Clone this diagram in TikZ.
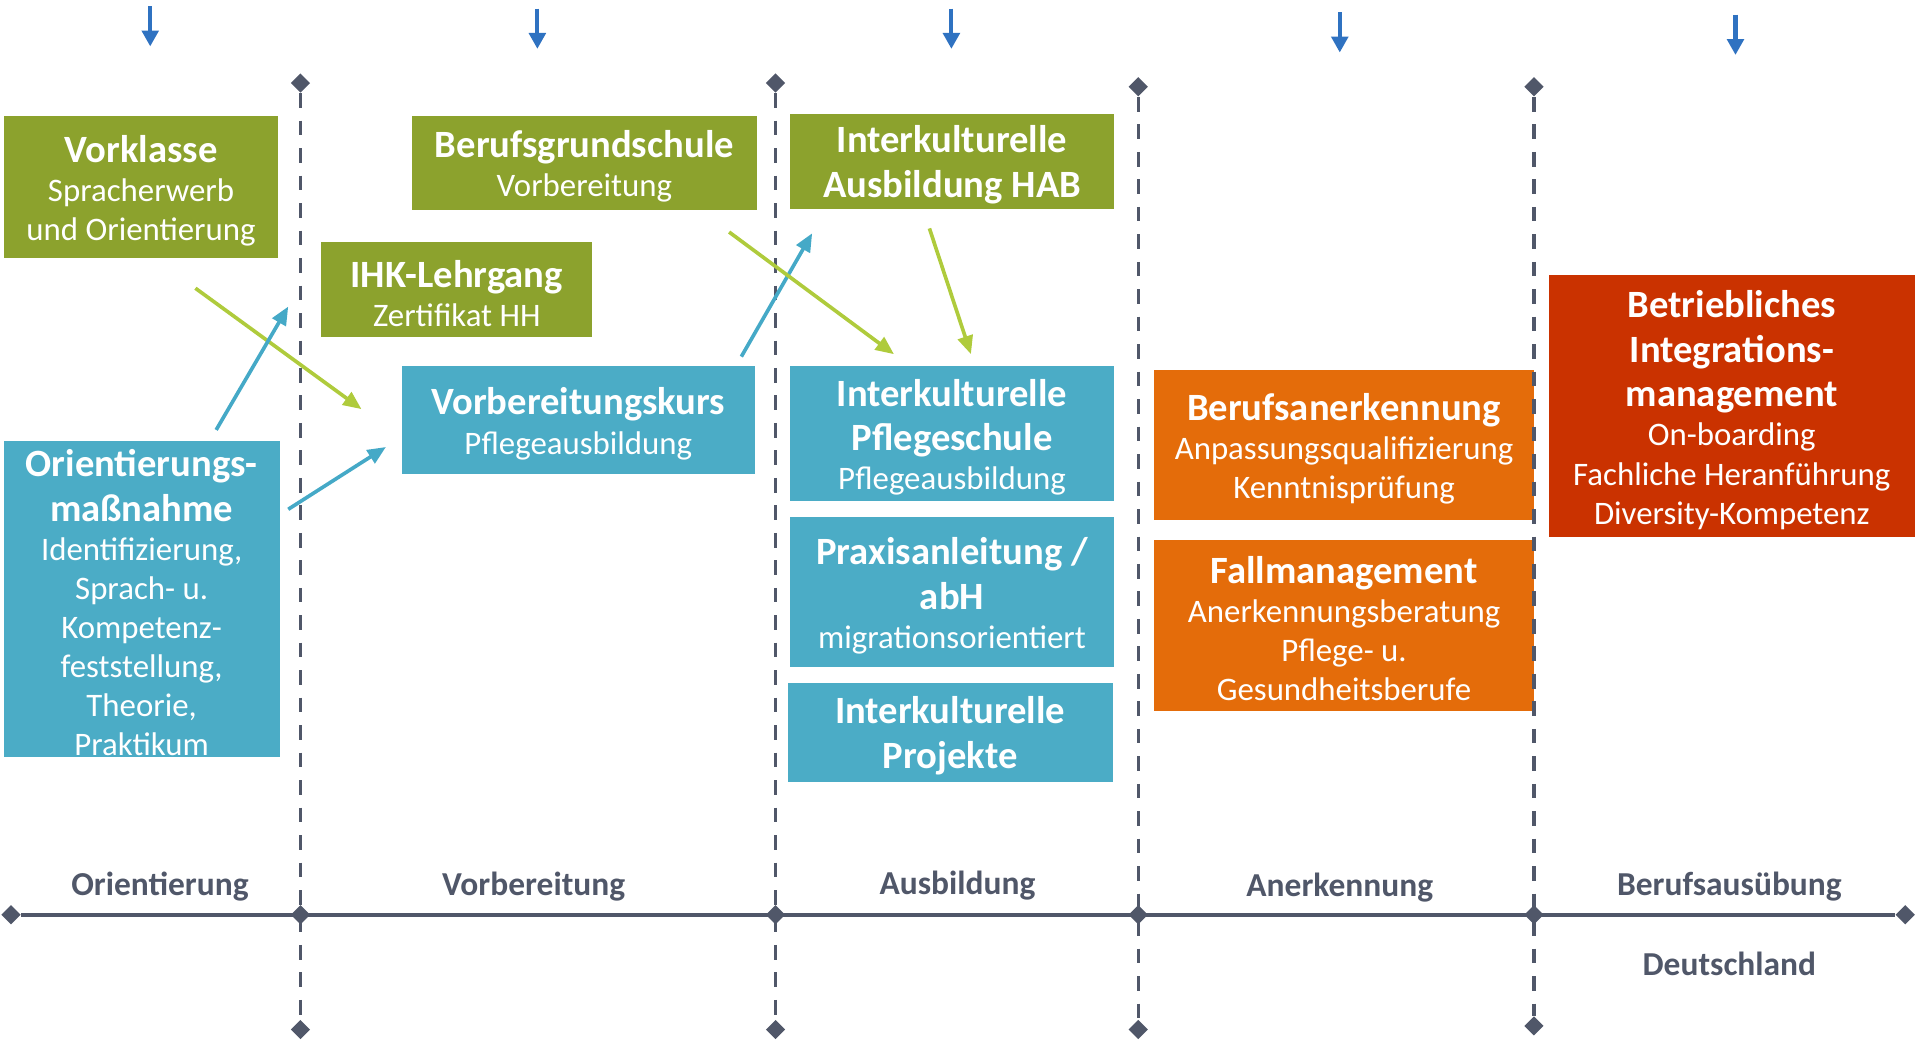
\documentclass[tikz,border=0pt]{standalone}
\usepackage{fontspec}
\setmainfont{Carlito}
\usepackage{tikz}
\usetikzlibrary{calc,shapes.geometric,arrows.meta}

\definecolor{boxgreen}{HTML}{8CA22D}
\definecolor{boxblue}{HTML}{4BACC6}
\definecolor{boxorange}{HTML}{E46C0A}
\definecolor{boxred}{HTML}{CA3200}
\definecolor{limearrow}{HTML}{AFCB3C}
\definecolor{cyanarrow}{HTML}{45A9C7}
\definecolor{toparrow}{HTML}{2F72C1}
\definecolor{axisgray}{HTML}{505769}

\tikzstyle{stagebox}=[rectangle,inner sep=0pt,text=white]
\tikzstyle{greenbox}=[stagebox,fill=boxgreen]
\tikzstyle{bluebox}=[stagebox,fill=boxblue]
\tikzstyle{orangebox}=[stagebox,fill=boxorange]
\tikzstyle{redbox}=[stagebox,fill=boxred]
\tikzstyle{limeline}=[draw=limearrow,line width=1.7pt,-{Triangle[length=0.3cm,width=0.25cm]}]
\tikzstyle{cyanline}=[draw=cyanarrow,line width=1.7pt,-{Triangle[length=0.3cm,width=0.25cm]}]
\tikzstyle{downarrow}=[draw=toparrow,line width=1.9pt,-{Triangle[length=0.26cm,width=0.27cm]}]
\tikzstyle{phaseline}=[draw=axisgray,line width=1.6pt,dash pattern=on 0.24cm off 0.21cm]
\tikzstyle{axisline}=[draw=axisgray,line width=1.7pt]
\tikzstyle{milestone}=[diamond,fill=axisgray,inner sep=0pt,minimum width=0.32cm,minimum height=0.32cm]
\tikzstyle{phaselabel}=[text=axisgray,font=\fontsize{15.6}{18}\selectfont\bfseries]
\newcommand\boxtitlefont{\fontsize{18}{20.9}\selectfont\bfseries}
\newcommand\boxsubfont{\fontsize{15.3}{18.2}\selectfont}
\newcommand\boxlabel[3][5cm]{\parbox{#1}{\vspace*{0.12cm}\centering{\boxtitlefont #2\par}{\boxsubfont #3\par}}}

\begin{document}
\begin{tikzpicture}[x=0.02cm,y=-0.02cm]
    \useasboundingbox (0,0) rectangle (1568,852);

    % Orientierung
    \node [greenbox,minimum width=4.5cm,minimum height=2.32cm] (vorklasse) at (115.5,153) {
        \boxlabel[4.5cm]{Vorklasse}{Spracherwerb\\und Orientierung}
    };
    \node [bluebox,minimum width=4.52cm,minimum height=5.18cm] (orientmass) at (116,490.5) {
        \boxlabel[4.52cm]{Orientierungs-\\maßnahme}{Identifizierung,\\Sprach- u.\\Kompetenz-\\feststellung,\\Theorie,\\Praktikum}
    };

    % Vorbereitung
    \node [greenbox,minimum width=5.66cm,minimum height=1.54cm] (grundschule) at (478.5,133.5) {
        \boxlabel[5.66cm]{Berufsgrundschule}{Vorbereitung}
    };
    \node [greenbox,minimum width=4.44cm,minimum height=1.56cm] (ihk) at (374,237) {
        \boxlabel[4.44cm]{IHK-Lehrgang}{Zertifikat HH}
    };
    \node [bluebox,minimum width=5.78cm,minimum height=1.76cm] (vorkurs) at (473.5,344) {
        \boxlabel[5.78cm]{Vorbereitungskurs}{Pflegeausbildung}
    };

    % Ausbildung
    \node [greenbox,minimum width=5.3cm,minimum height=1.56cm] (hab) at (779.5,132) {
        \boxlabel[5.3cm]{Interkulturelle\\Ausbildung HAB}{}
    };
    \node [bluebox,minimum width=5.3cm,minimum height=2.2cm] (pflegeschule) at (779.5,355) {
        \boxlabel[5.3cm]{Interkulturelle\\Pflegeschule}{Pflegeausbildung}
    };
    \node [bluebox,minimum width=5.3cm,minimum height=2.46cm] (praxis) at (779.5,484.5) {
        \boxlabel[5.3cm]{Praxisanleitung /\\abH}{migrationsorientiert}
    };
    \node [bluebox,minimum width=5.32cm,minimum height=1.62cm] (projekte) at (778,599.5) {
        \boxlabel[5.32cm]{Interkulturelle\\Projekte}{}
    };

    % Anerkennung
    \node [orangebox,minimum width=6.22cm,minimum height=2.46cm] (anerkennung) at (1100.5,364.5) {
        \boxlabel[6.22cm]{Berufsanerkennung}{Anpassungsqualifizierung\\Kenntnisprüfung}
    };
    \node [orangebox,minimum width=6.22cm,minimum height=2.8cm] (fallmanagement) at (1100.5,512) {
        \boxlabel[6.22cm]{Fallmanagement}{Anerkennungsberatung\\Pflege- u.\\Gesundheitsberufe}
    };

    % Berufsausuebung
    \node [redbox,minimum width=6cm,minimum height=4.3cm] (integration) at (1418,332.5) {
        \boxlabel[6cm]{Betriebliches\\Integrations-\\management}{On-boarding\\Fachliche Heranführung\\Diversity-Kompetenz}
    };

    % phase borders
    \node [milestone] (border1top) at (246,68) {};
    \node [milestone] (border1bot) at (246,843) {};
    \node [milestone] (border2top) at (635,68) {};
    \node [milestone] (border2bot) at (635,843) {};
    \node [milestone] (border3top) at (932,71) {};
    \node [milestone] (border3bot) at (932,843) {};
    \node [milestone] (border4top) at (1256,71) {};
    \node [milestone] (border4bot) at (1256,840) {};
    \draw [phaseline] (border1top) -- (border1bot);
    \draw [phaseline] (border2top) -- (border2bot);
    \draw [phaseline] (border3top) -- (border3bot);
    \draw [phaseline] (border4top) -- (border4bot);

    % time axis
    \node [milestone] (axisstart) at (9,749) {};
    \node [milestone] (axisend) at (1560,749) {};
    \draw [axisline] (axisstart) -- (axisend);
    \node [milestone] (cross1) at (246,749) {};
    \node [milestone] (cross2) at (635,749) {};
    \node [milestone] (cross3) at (932,749) {};
    \node [milestone] (cross4) at (1256,749) {};

    \node [phaselabel] (orientierung) at (131,726) {Orientierung};
    \node [phaselabel] (vorbereitung) at (437,726) {Vorbereitung};
    \node [phaselabel] (ausbildung) at (784,725) {Ausbildung};
    \node [phaselabel] (anerkennungphase) at (1097,727) {Anerkennung};
    \node [phaselabel] (berufsausuebung) at (1416,726) {Berufsausübung};
    \node [phaselabel] (deutschland) at (1416,789) {Deutschland};

    % entry arrows
    \coordinate (orientierungtop) at (123,5);
    \coordinate (orientierungtip) at (123,38);
    \coordinate (vorbereitungtop) at (440,7);
    \coordinate (vorbereitungtip) at (440,40);
    \coordinate (ausbildungtop) at (779,7);
    \coordinate (ausbildungtip) at (779,40);
    \coordinate (anerkennungtop) at (1097,10);
    \coordinate (anerkennungtip) at (1097,43);
    \coordinate (berufstop) at (1421,12);
    \coordinate (berufstip) at (1421,45);
    \draw [downarrow] (orientierungtop) -- (orientierungtip);
    \draw [downarrow] (vorbereitungtop) -- (vorbereitungtip);
    \draw [downarrow] (ausbildungtop) -- (ausbildungtip);
    \draw [downarrow] (anerkennungtop) -- (anerkennungtip);
    \draw [downarrow] (berufstop) -- (berufstip);

    % transitions
    \coordinate (vorklasseout) at (160,236);
    \coordinate (vorkursin) at (296,335);
    \coordinate (orientup) at (177,352);
    \coordinate (ihkin) at (236,251);
    \coordinate (orientright) at (236,417);
    \coordinate (vorkursleft) at (316,366);
    \coordinate (vorkursout) at (607,292);
    \coordinate (habin) at (665,191);
    \coordinate (grundschuleout) at (597,190);
    \coordinate (pflegeschulein) at (732,290);
    \coordinate (habout) at (761,187);
    \coordinate (pflegeschuletop) at (795,290);
    \draw [limeline] (vorklasseout) -- (vorkursin);
    \draw [cyanline] (orientup) -- (ihkin);
    \draw [cyanline] (orientright) -- (vorkursleft);
    \draw [cyanline] (vorkursout) -- (habin);
    \draw [limeline] (grundschuleout) -- (pflegeschulein);
    \draw [limeline] (habout) -- (pflegeschuletop);
\end{tikzpicture}
\end{document}
